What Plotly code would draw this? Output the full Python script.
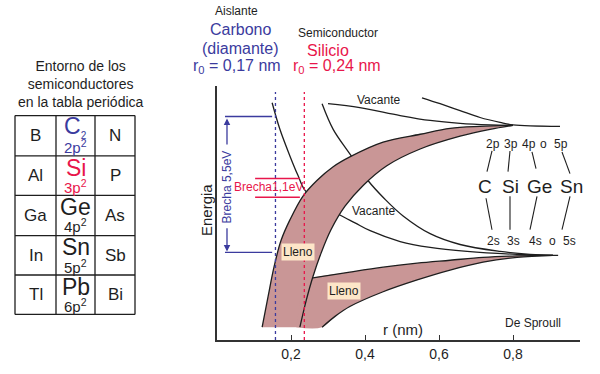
import plotly.graph_objects as go

FONT = "Liberation Sans, Arial, Helvetica, sans-serif"
BLUE = "#3b3b9e"
RED = "#e8164b"
PINK = "#c99696"
BOX = "#fde6c8"
INK = "#1e1e1e"
CLEAR = "rgba(0,0,0,0)"

# ---------------- data: energy-band curves, r (nm) vs energy (arb. units) ----------
r_upper_outer = [0.122, 0.138, 0.154, 0.173, 0.197, 0.232, 0.270, 0.314, 0.359, 0.449, 0.549, 0.630, 0.711, 0.800]
E_upper_outer = [13, 44, 74, 101, 122, 146, 162, 176, 186, 201, 209, 215, 217, 218]

r_upper_inner = [0.224, 0.241, 0.259, 0.281, 0.308, 0.346, 0.395, 0.459, 0.549, 0.657, 0.738, 0.800]
E_upper_inner = [13, 40, 64, 88, 112, 136, 157, 177, 194, 207, 214, 218]

r_lower_top = [0.259, 0.359, 0.449, 0.541, 0.630, 0.719, 0.811, 0.908]
E_lower_top = [63, 69, 74, 78, 81, 84, 85.5, 86]

r_lower_bot = [0.284, 0.319, 0.359, 0.449, 0.541, 0.630, 0.719, 0.811, 0.908]
E_lower_bot = [13, 24, 34, 49, 61, 71, 79, 84, 86]

# empty (vacant) band edges
r_vac_a = [0.149, 0.170, 0.197, 0.219, 0.238, 0.284, 0.332, 0.373, 0.414, 0.495, 0.576, 0.676, 0.811, 0.908]
E_vac_a = [241, 214, 187, 167, 152, 138, 127, 119, 111, 100, 94, 90, 87, 86]

r_vac_b = [0.284, 0.314, 0.359, 0.408, 0.454, 0.503, 0.576, 0.657, 0.765, 0.846, 0.908, 0.922]
E_vac_b = [240, 214, 189, 162, 143, 126, 108, 97, 90, 87, 86, 86]

r_vac_c = [0.300, 0.386, 0.495, 0.576, 0.657, 0.738, 0.800]
E_vac_c = [240, 236, 228, 223, 220, 218.5, 218]

r_vac_d = [0.554, 0.603, 0.657, 0.711, 0.765, 0.800, 0.927]
E_vac_d = [246, 240, 233, 226, 221, 218.5, 217]

# fill helpers for the lower band (extend under the upper band, same colour)
r_lower_top_fill = [0.232] + r_lower_top
E_lower_top_fill = [59] + E_lower_top
r_lower_bot_fill = [0.214] + r_lower_bot
E_lower_bot_fill = [13] + E_lower_bot

# lattice spacings
r_carbon = 0.158
r_silicon = 0.236
E_top_dotted = 252

# gaps
E_gap55 = [227, 89]
E_gap11 = [164, 145]

tick_vals = [0.2, 0.4, 0.6, 0.8]
tick_text = ["0,2", "0,4", "0,6", "0,8"]

# periodic table
col_left = ["B", "Al", "Ga", "In", "Tl"]
col_mid = ["C<sub><span style='font-size:10px'>2</span></sub>", "Si", "Ge", "Sn", "Pb"]
col_mid_orb = ["2p<sup>2</sup>", "3p<sup>2</sup>", "4p<sup>2</sup>", "5p<sup>2</sup>", "6p<sup>2</sup>"]
col_right = ["N", "P", "As", "Sb", "Bi"]
mid_colors = [BLUE, RED, INK, INK, INK]

orb_p = ["2p", "3p", "4p", "o", "5p"]
elems = ["C", "Si", "Ge", "Sn"]
orb_s = ["2s", "3s", "4s", "o", "5s"]

# ---------------- geometry ----------------
W, H = 600, 374
ML, MR, MT, MB = 217, 20, 86, 30
PW, PH = W - ML - MR, H - MT - MB


def px(x):
    return (x - ML) / PW


def py(y):
    return (H - MB - y) / PH


fig = go.Figure()

# vacant lines first (partly hidden under the filled band)
for rr, ee in [(r_vac_a, E_vac_a), (r_vac_b, E_vac_b)]:
    fig.add_trace(go.Scatter(x=rr, y=ee, mode="lines",
                             line=dict(color=INK, width=1.3, shape="spline"),
                             hoverinfo="skip", showlegend=False))

# upper filled band
fig.add_trace(go.Scatter(x=r_upper_outer, y=E_upper_outer, mode="lines",
                         line=dict(shape="spline", color=CLEAR, width=1),
                         hoverinfo="skip", showlegend=False))
fig.add_trace(go.Scatter(x=r_upper_inner, y=E_upper_inner, mode="lines",
                         line=dict(shape="spline", color=CLEAR, width=1),
                         fill="tonexty", fillcolor=PINK,
                         hoverinfo="skip", showlegend=False))
# lower filled band
fig.add_trace(go.Scatter(x=r_lower_top_fill, y=E_lower_top_fill, mode="lines",
                         line=dict(shape="spline", color=CLEAR, width=1),
                         hoverinfo="skip", showlegend=False))
fig.add_trace(go.Scatter(x=r_lower_bot_fill, y=E_lower_bot_fill, mode="lines",
                         line=dict(shape="spline", color=CLEAR, width=1),
                         fill="tonexty", fillcolor=PINK,
                         hoverinfo="skip", showlegend=False))

# outline lines
for rr, ee in [(r_upper_outer, E_upper_outer), (r_upper_inner, E_upper_inner),
               (r_lower_top, E_lower_top), (r_lower_bot, E_lower_bot),
               (r_vac_c, E_vac_c), (r_vac_d, E_vac_d)]:
    fig.add_trace(go.Scatter(x=rr, y=ee, mode="lines",
                             line=dict(color=INK, width=1.3, shape="spline"),
                             hoverinfo="skip", showlegend=False))

shapes = []
# dotted lattice-spacing lines
shapes.append(dict(type="line", xref="x", yref="y", x0=r_carbon, x1=r_carbon, y0=0, y1=E_top_dotted,
                   line=dict(color=BLUE, width=1.3, dash="dot")))
shapes.append(dict(type="line", xref="x", yref="y", x0=r_silicon, x1=r_silicon, y0=0, y1=E_top_dotted,
                   line=dict(color=RED, width=1.3, dash="dot")))
# gap marker lines
for e in E_gap55:
    shapes.append(dict(type="line", xref="x", yref="y", x0=0.0216, x1=0.149, y0=e, y1=e,
                       line=dict(color=BLUE, width=1.4)))
for e in E_gap11:
    shapes.append(dict(type="line", xref="x", yref="y", x0=0.103, x1=0.224, y0=e, y1=e,
                       line=dict(color=RED, width=1.4)))

# right-side connector lines (pixel positions)
conn = [((492, 152), (487, 173)), ((510, 152), (508, 173)), ((532, 153), (536, 170)),
        ((562, 153), (570, 175)),
        ((486, 200), (492, 232)), ((510, 198), (510, 232)), ((537, 198), (530, 232)),
        ((570, 198), (562, 232))]
for (x0, y0), (x1, y1) in conn:
    shapes.append(dict(type="line", xref="paper", yref="paper", x0=px(x0), y0=py(y0),
                       x1=px(x1), y1=py(y1), line=dict(color=INK, width=1.1)))

# periodic table grid
col_x = [15, 56, 95, 135]
row_y = [116, 157, 197, 238, 278, 318]
for cx in col_x:
    shapes.append(dict(type="line", xref="paper", yref="paper", x0=px(cx), x1=px(cx),
                       y0=py(row_y[0]), y1=py(row_y[-1]), line=dict(color=INK, width=1.3)))
for ry in row_y:
    shapes.append(dict(type="line", xref="paper", yref="paper", x0=px(col_x[0]), x1=px(col_x[-1]),
                       y0=py(ry), y1=py(ry), line=dict(color=INK, width=1.3)))

ann = []


def txt(x, y, s, size, color=INK, ref="paper", **kw):
    if ref == "paper":
        d = dict(x=px(x), y=py(y), xref="paper", yref="paper")
    else:
        d = dict(x=x, y=y, xref="x", yref="y")
    d.update(text=s, showarrow=False, font=dict(family=FONT, size=size, color=color),
             xanchor="center", yanchor="middle")
    d.update(kw)
    ann.append(d)


# table title
txt(81, 84, "Entorno de los<br>semiconductores<br>en la tabla periódica", 14)
# table contents
for i in range(5):
    top = row_y[i]
    cy = (row_y[i] + row_y[i + 1]) / 2
    txt(35.5, cy, col_left[i], 17)
    txt(115, cy, col_right[i], 17)
    txt(75.5, top + 12, col_mid[i], 23, mid_colors[i])
    txt(75.5, top + 31, col_mid_orb[i], 15, mid_colors[i])

# header labels
txt(236, 10, "Aislante", 12)
txt(240, 29, "Carbono", 16, BLUE)
txt(240, 48, "(diamante)", 16, BLUE)
txt(237, 66, "r<sub>0</sub> = 0,17 nm", 16, BLUE)
txt(338, 32, "Semiconductor", 12)
txt(328, 50, "Silicio", 16, RED)
txt(337, 66, "r<sub>0</sub> = 0,24 nm", 16, RED)

# axis-related labels
txt(206, 212, "Energia", 15, textangle=-90)
txt(403, 333, "r (nm)", 15)
txt(533, 327, "De Sproull", 12)

# in-plot labels
txt(0.436, 244, "Vacante", 12, ref="data")
txt(0.422, 131, "Vacante", 12, ref="data")
txt(0.219, 89, "Lleno", 12, ref="data", bgcolor=BOX, borderpad=1)
txt(0.343, 50, "Lleno", 12, ref="data", bgcolor=BOX, borderpad=1)
txt(0.027, 156, "Brecha 5,5eV", 12, BLUE, ref="data", textangle=-90)
txt(0.138, 155, "Brecha1,1eV", 12, RED, ref="data")

# gap arrows
ann.append(dict(x=0.027, y=225, ax=0.027, ay=197, xref="x", yref="y", axref="x", ayref="y",
                text="", showarrow=True, arrowhead=2, arrowsize=1, arrowwidth=1.3, arrowcolor=BLUE))
ann.append(dict(x=0.027, y=90, ax=0.027, ay=115, xref="x", yref="y", axref="x", ayref="y",
                text="", showarrow=True, arrowhead=2, arrowsize=1, arrowwidth=1.3, arrowcolor=BLUE))

# right-side orbital labels
p_x = [493, 511, 529, 543, 561]
for s, xx in zip(orb_p, p_x):
    txt(xx, 145, s, 12)
e_x = [485, 510, 539, 571]
for s, xx in zip(elems, e_x):
    txt(xx, 188, s, 19)
s_x = [493, 513, 535, 552, 569]
for s, xx in zip(orb_s, s_x):
    txt(xx, 243, s, 12)

fig.update_layout(
    width=W, height=H,
    margin=dict(l=ML, r=MR, t=MT, b=MB, pad=0),
    paper_bgcolor="white", plot_bgcolor="white",
    showlegend=False,
    font=dict(family=FONT, color=INK),
    shapes=shapes,
    annotations=ann,
    xaxis=dict(range=[0, PW / 370], showgrid=False, zeroline=False, showline=True,
               linecolor="#333333", linewidth=1.6, ticks="inside", ticklen=5, tickwidth=1.3,
               tickcolor="#333333", tickvals=tick_vals, ticktext=tick_text,
               tickfont=dict(family=FONT, size=14, color=INK), fixedrange=True),
    yaxis=dict(range=[0, PH], showgrid=False, zeroline=False, showline=True,
               linecolor="#333333", linewidth=1.6, showticklabels=False, ticks="",
               fixedrange=True),
)

fig.write_html("out.html", config={"displayModeBar": False},
               post_script="document.body.style.margin='0';document.body.style.padding='0';")
